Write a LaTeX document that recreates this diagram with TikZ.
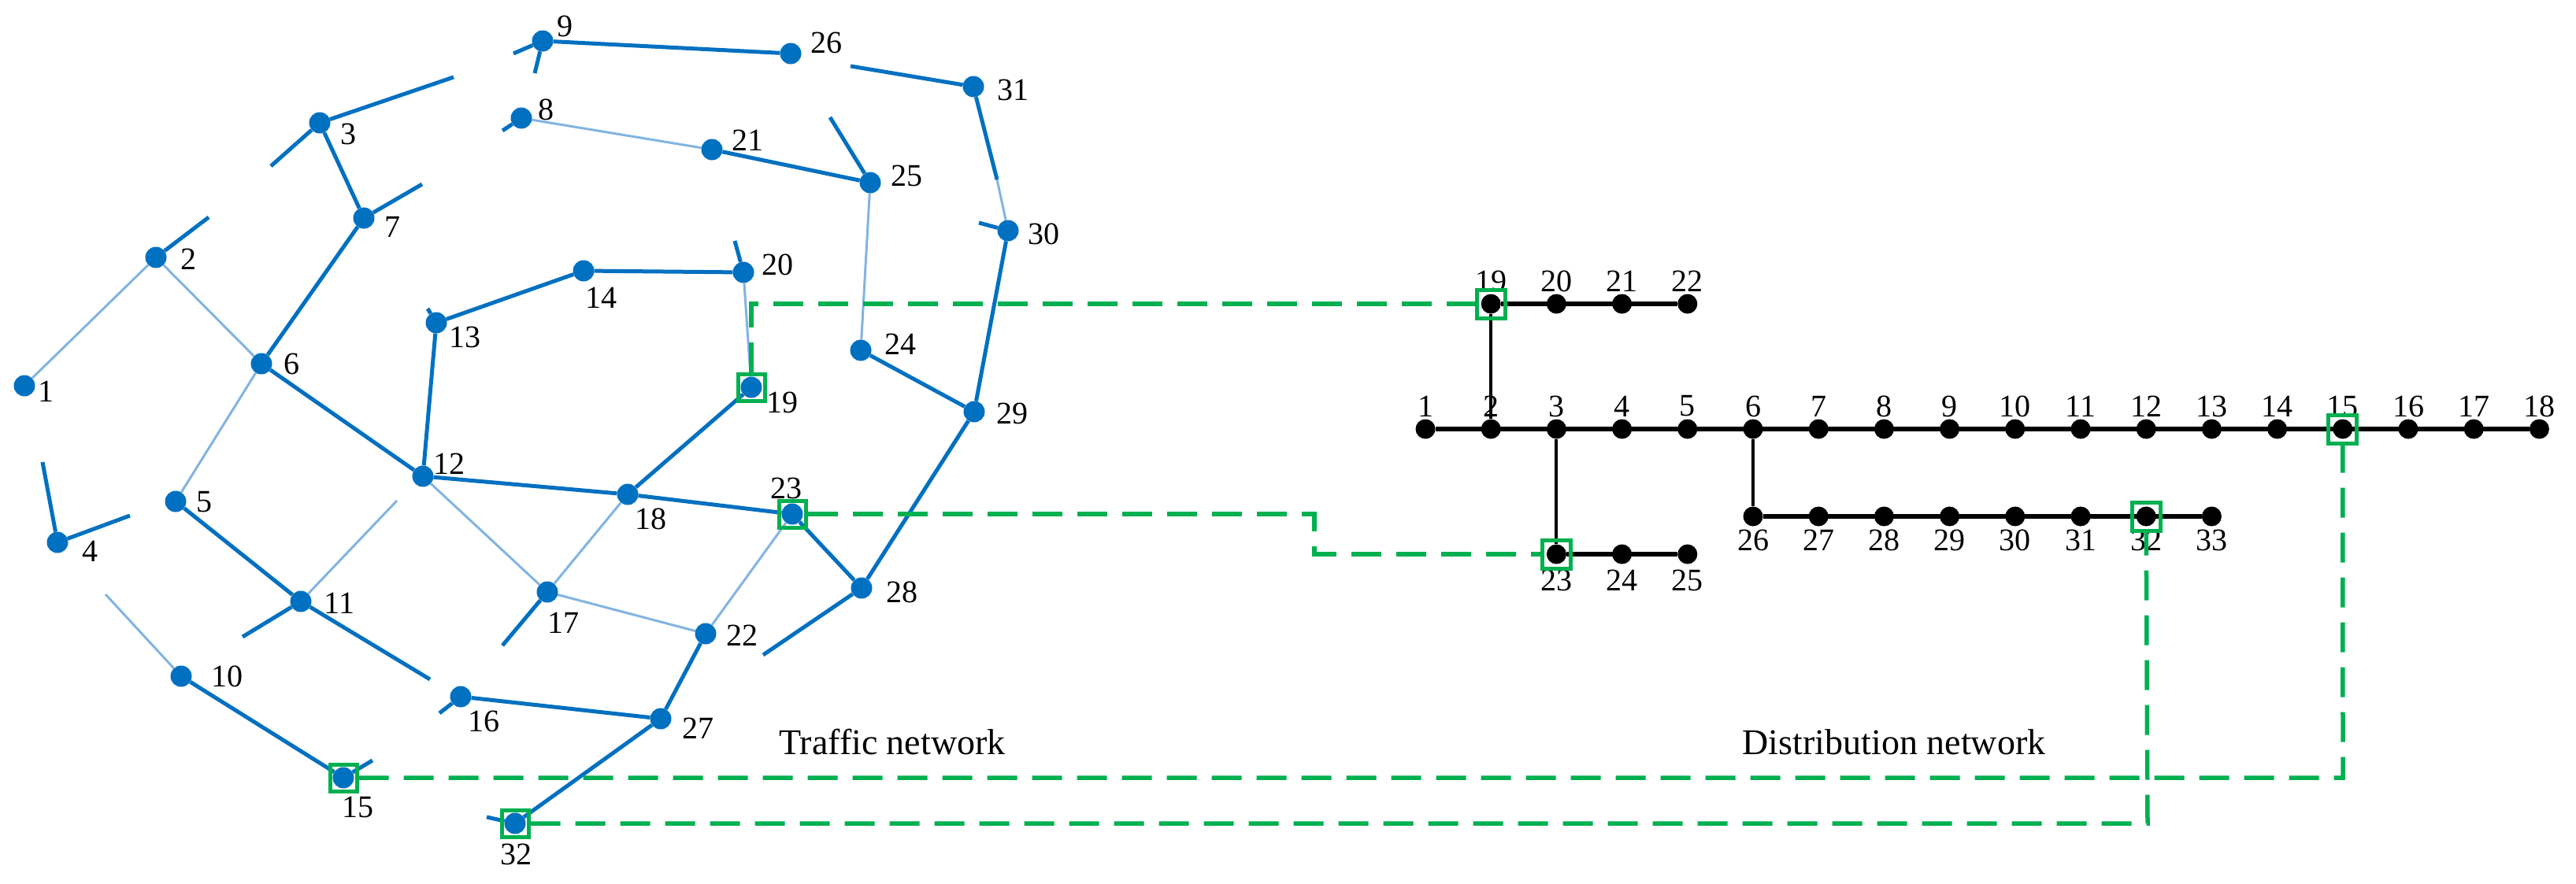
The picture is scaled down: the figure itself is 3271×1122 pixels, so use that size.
\documentclass[tikz,border=0pt]{standalone}
\usepackage{fontspec}
\setmainfont{Liberation Serif}
\usetikzlibrary{backgrounds}
\begin{document}
\begin{tikzpicture}[x=1pt,y=-1pt,
  tn/.style={circle,fill=tblue,inner sep=0pt,minimum size=27pt},
  dn/.style={circle,fill=black,inner sep=0pt,minimum size=25pt},
  lab/.style={font=\fontsize{40}{40}\selectfont,inner sep=0pt},
  te/.style={draw=tblue,line width=5pt},
  tl/.style={draw=tlight,line width=3pt},
  de/.style={draw=black,line width=6pt},
  gb/.style={draw=ggreen,line width=5pt,minimum size=36pt,inner sep=0pt,rectangle},
  gd/.style={draw=ggreen,line width=5.5pt,dash pattern=on 38pt off 19pt}]
\definecolor{tblue}{RGB}{0,112,192}
\definecolor{tlight}{RGB}{130,180,225}
\definecolor{ggreen}{RGB}{0,176,80}
\useasboundingbox (0,0) rectangle (3271,1122);
% traffic nodes
\foreach \n/\x/\y/\dx/\dy in {1/31/490/27/-7,2/198/327/41/-2,3/406/156/36/-14,4/73/689/41/-11,5/223/637/36/-1,6/332/462/38/0,7/462/277/36/-11,8/662/150/31/11,9/689/52/28/19,10/230/859/58/0,11/382/764/49/-2,12/537/605/33/16,13/554/410/36/-18,14/741/344/22/-34,15/436/988/18/-37,16/585/885/29/-31,17/695/752/20/-39,18/797/628/29/-31,19/954/492/39/-19,20/944/346/43/10,21/904/190/45/12,22/896/805/46/-2,23/1006/653/-8/33,24/1093/445/50/8,25/1105/232/46/9,26/1004/68/45/14,27/839/913/47/-12,28/1094/747/51/-5,29/1237/523/48/-2,30/1280/293/45/-4,31/1236/110/50/-4,32/654/1046/1/-39}
  \node[tn,label={[lab,xshift=\dx pt,yshift=\dy pt]center:\n}] (t\n) at (\x,\y) {};
% stub ends
\foreach \s/\x/\y in {a/344/211,b/576/98,c/265/276,d/536/234,e/54/587,f/165/655,g/134/755,h/308/809,i/504/636,j/546/863,k/558/906,l/473/966,m/638/820,n/543/392,o/933/306,p/969/832,q/1243/283,r/1266/228,s/1080/84,u/652/68,v/679/93,w/638/166,y/1054/149,z/618/1038}
  \coordinate (s\s) at (\x,\y);
\begin{scope}[on background layer]
\draw[tl] (t1)--(t2); \draw[tl] (t2)--(t6); \draw[tl] (t6)--(t5);
\draw[tl] (t25)--(t24); \draw[tl] (t8)--(t21); \draw[tl] (t20)--(t19);
\draw[tl] (t18)--(t17); \draw[tl] (t12)--(t17); \draw[tl] (t17)--(t22);
\draw[tl] (t22)--(t23); \draw[tl] (t10)--(sg); \draw[tl] (t11)--(si);
\draw[tl] (sr)--(t30);
\draw[te] (t3)--(t7); \draw[te] (t6)--(t7); \draw[te] (t6)--(t12);
\draw[te] (t5)--(t11); \draw[te] (t4)--(sf); \draw[te] (t4)--(se);
\draw[te] (t11)--(sh); \draw[te] (t11)--(sj); \draw[te] (t16)--(sk);
\draw[te] (t10)--(t15); \draw[te] (t15)--(sl); \draw[te] (t12)--(t13);
\draw[te] (t13)--(t14); \draw[te] (t14)--(t20); \draw[te] (t20)--(so);
\draw[te] (t13)--(sn);
\draw[te] (t19)--(t18); \draw[te] (t12)--(t18); \draw[te] (t18)--(t23);
\draw[te] (t17)--(sm); \draw[te] (t22)--(t27); \draw[te] (t27)--(t16);
\draw[te] (t27)--(t32); \draw[te] (t32)--(sz); \draw[te] (t23)--(t28);
\draw[te] (t28)--(sp); \draw[te] (t28)--(t29); \draw[te] (t29)--(t24);
\draw[te] (t29)--(t30); \draw[te] (t30)--(sq); \draw[te] (t31)--(sr);
\draw[te] (ss)--(t31); \draw[te] (t26)--(t9); \draw[te] (t9)--(su);
\draw[te] (t9)--(sv); \draw[te] (t8)--(sw); \draw[te] (t21)--(t25);
\draw[te] (t25)--(sy); \draw[te] (t3)--(sa); \draw[te] (t3)--(sb);
\draw[te] (t2)--(sc); \draw[te] (t7)--(sd);
\end{scope}
% distribution nodes
\foreach \i in {1,...,18}
  \node[dn,label={[lab,yshift=29pt]center:\i}] (d\i) at ({1810+(\i-1)*83.2},545) {};
\foreach \i/\k in {19/1,20/2,21/3,22/4}
  \node[dn,label={[lab,yshift=29pt]center:\i}] (d\i) at ({1810+\k*83.2},386) {};
\foreach \i/\k in {23/2,24/3,25/4}
  \node[dn,label={[lab,yshift=-33pt]center:\i}] (d\i) at ({1810+\k*83.2},704) {};
\foreach \i/\k in {26/5,27/6,28/7,29/8,30/9,31/10,32/11,33/12}
  \node[dn,label={[lab,yshift=-30pt]center:\i}] (d\i) at ({1810+\k*83.2},656) {};
\begin{scope}[on background layer]
\draw[de] (d1)--(d18); \draw[de] (d19)--(d22); \draw[de] (d23)--(d25);
\draw[de] (d26)--(d33);
\draw[draw=black,line width=4pt] (d2)--(d19) (d3)--(d23) (d6)--(d26);
\end{scope}
% boxes
\foreach \b in {t15,t19,t23,t32} \node[gb,minimum size=34pt] (b\b) at (\b) {};
\foreach \b in {d15,d19,d23,d32} \node[gb] (b\b) at (\b) {};
% green dashed links
\coordinate (c19) at (954,386);
\draw[gd] (bt19.north) -- (c19) -- (bd19.west);
\coordinate (c23a) at (1669,653); \coordinate (c23b) at (1669,704);
\draw[gd] (bt23.east) -- (c23a) -- (c23b) -- (bd23.west);
\coordinate (c15) at (2975,988);
\draw[gd] (bt15.east) -- (c15) -- (bd15.south);
\coordinate (c32) at (2727,1046);
\draw[gd] (bt32.east) -- (c32) -- (bd32.south);
\node[font=\fontsize{46}{46}\selectfont] (tt) at (1133,943) {Traffic network};
\node[font=\fontsize{46}{46}\selectfont] (dt) at (2405,943) {Distribution network};
\end{tikzpicture}
\end{document}
